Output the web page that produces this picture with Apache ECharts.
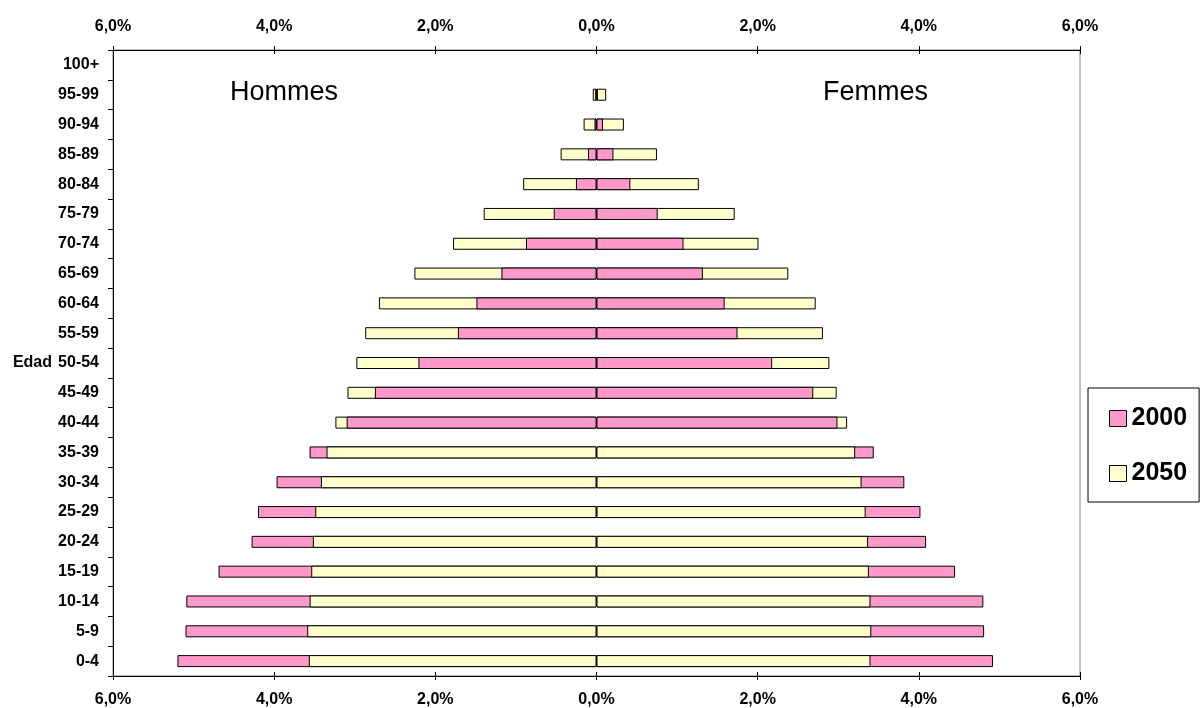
<!DOCTYPE html>
<html>
<head>
<meta charset="utf-8">
<script src="https://cdn.jsdelivr.net/npm/echarts@6/dist/echarts.min.js"></script>
<style>
  html, body { margin: 0; padding: 0; background: #fff; }
  #chart { width: 1200px; height: 708px; }
</style>
</head>
<body>
<div id="chart"></div>
<script>
// Age groups, bottom to top
const categories = ['0-4','5-9','10-14','15-19','20-24','25-29','30-34','35-39','40-44','45-49','50-54','55-59','60-64','65-69','70-74','75-79','80-84','85-89','90-94','95-99','100+'];
// Percent of total population
const men2000   = [5.20, 5.10, 5.09, 4.69, 4.28, 4.20, 3.97, 3.56, 3.10, 2.75, 2.21, 1.72, 1.49, 1.18, 0.875, 0.53, 0.255, 0.105, 0.025, 0.01, 0];
const men2050   = [3.57, 3.59, 3.56, 3.54, 3.52, 3.49, 3.42, 3.35, 3.24, 3.09, 2.98, 2.87, 2.70, 2.26, 1.78, 1.40, 0.91, 0.445, 0.16, 0.046, 0];
const women2000 = [4.92, 4.81, 4.80, 4.45, 4.09, 4.02, 3.82, 3.44, 2.99, 2.69, 2.18, 1.75, 1.59, 1.32, 1.08, 0.76, 0.42, 0.21, 0.08, 0.015, 0];
const women2050 = [3.40, 3.41, 3.40, 3.38, 3.37, 3.34, 3.29, 3.21, 3.11, 2.98, 2.89, 2.81, 2.72, 2.38, 2.01, 1.715, 1.27, 0.75, 0.34, 0.12, 0];
const seriesNames = ['2000', '2050'];
const sideTitles = ['Hommes', 'Femmes'];
const axisName = 'Edad';

const PINK = '#FF99CC';
const YELLOW = '#FFFFCC';
const FONT = "'Liberation Sans', Arial, sans-serif";

// Larger value drawn behind, smaller value in front (as in the original overlapping bars)
function layer(a2000, a2050, sign, pickBig) {
  return categories.map(function (c, i) {
    const p = a2000[i], y = a2050[i];
    const pinkBig = p >= y;
    let v, col;
    if (pickBig) { v = pinkBig ? p : y; col = pinkBig ? PINK : YELLOW; }
    else { v = pinkBig ? y : p; col = pinkBig ? YELLOW : PINK; }
    return { value: v === 0 ? null : sign * v, itemStyle: { color: col } };
  });
}

const barCommon = {
  type: 'bar',
  barWidth: 12,
  barGap: '-100%',
  silent: true,
  itemStyle: { borderColor: '#000', borderWidth: 1 }
};

const fmt = function (v) { return Math.abs(v).toFixed(1).replace('.', ',') + '%'; };

function xAx(pos, showLabel, inside) {
  return {
    type: 'value', position: pos, min: -6, max: 6, interval: 2,
    axisLine: { show: showLabel, lineStyle: { color: '#000', width: 1 } },
    axisTick: { show: true, inside: inside, length: 4, lineStyle: { color: '#000' } },
    splitLine: { show: false },
    axisLabel: { show: showLabel, formatter: fmt, margin: pos === 'bottom' ? 16 : 15, color: '#000', fontSize: 16, fontWeight: 'bold', fontFamily: FONT, showMinLabel: true, showMaxLabel: true }
  };
}

const chart = echarts.init(document.getElementById('chart'), null, { renderer: 'canvas' });
chart.setOption({
  animation: false,
  backgroundColor: '#fff',
  grid: { left: 113, right: 120, top: 50, bottom: 32, show: true, borderColor: '#808080', borderWidth: 1, backgroundColor: 'transparent' },
  xAxis: [xAx('bottom', true, false), xAx('top', true, false), xAx('bottom', false, true), xAx('top', false, true)],
  yAxis: {
    type: 'category', data: categories,
    name: axisName, nameLocation: 'middle', nameRotate: 0, nameGap: 61,
    nameTextStyle: { color: '#000', fontSize: 16, fontWeight: 'bold', fontFamily: FONT, align: 'right', verticalAlign: 'middle' },
    axisLine: { onZero: false, lineStyle: { color: '#000', width: 1 } },
    axisTick: { show: true, length: 5, lineStyle: { color: '#000' } },
    axisLabel: { margin: 14, color: '#000', fontSize: 16, fontWeight: 'bold', fontFamily: FONT }
  },
  legend: {
    orient: 'vertical', left: 1088, top: 388,
    data: seriesNames,
    icon: 'rect', itemWidth: 17, itemHeight: 16, itemGap: 30,
    padding: [18, 12, 16, 21],
    borderColor: '#000', borderWidth: 1,
    itemStyle: { borderColor: '#000', borderWidth: 1 },
    textStyle: { color: '#000', fontSize: 25, fontWeight: 'bold', fontFamily: FONT }
  },
  graphic: [
    { type: 'text', left: 230, top: 79, style: { text: sideTitles[0], fill: '#000', fontSize: 27, fontFamily: FONT } },
    { type: 'text', left: 823, top: 79, style: { text: sideTitles[1], fill: '#000', fontSize: 27, fontFamily: FONT } }
  ],
  series: [
    Object.assign({}, barCommon, { name: 'men-back', data: layer(men2000, men2050, -1, true) }),
    Object.assign({}, barCommon, { name: 'women-back', data: layer(women2000, women2050, 1, true) }),
    Object.assign({}, barCommon, { name: 'men-front', data: layer(men2000, men2050, -1, false) }),
    Object.assign({}, barCommon, { name: 'women-front', data: layer(women2000, women2050, 1, false) }),
    Object.assign({}, barCommon, { name: seriesNames[0], data: [], itemStyle: { color: PINK, borderColor: '#000', borderWidth: 1 } }),
    Object.assign({}, barCommon, { name: seriesNames[1], data: [], itemStyle: { color: YELLOW, borderColor: '#000', borderWidth: 1 } })
  ]
});
</script>
</body>
</html>
